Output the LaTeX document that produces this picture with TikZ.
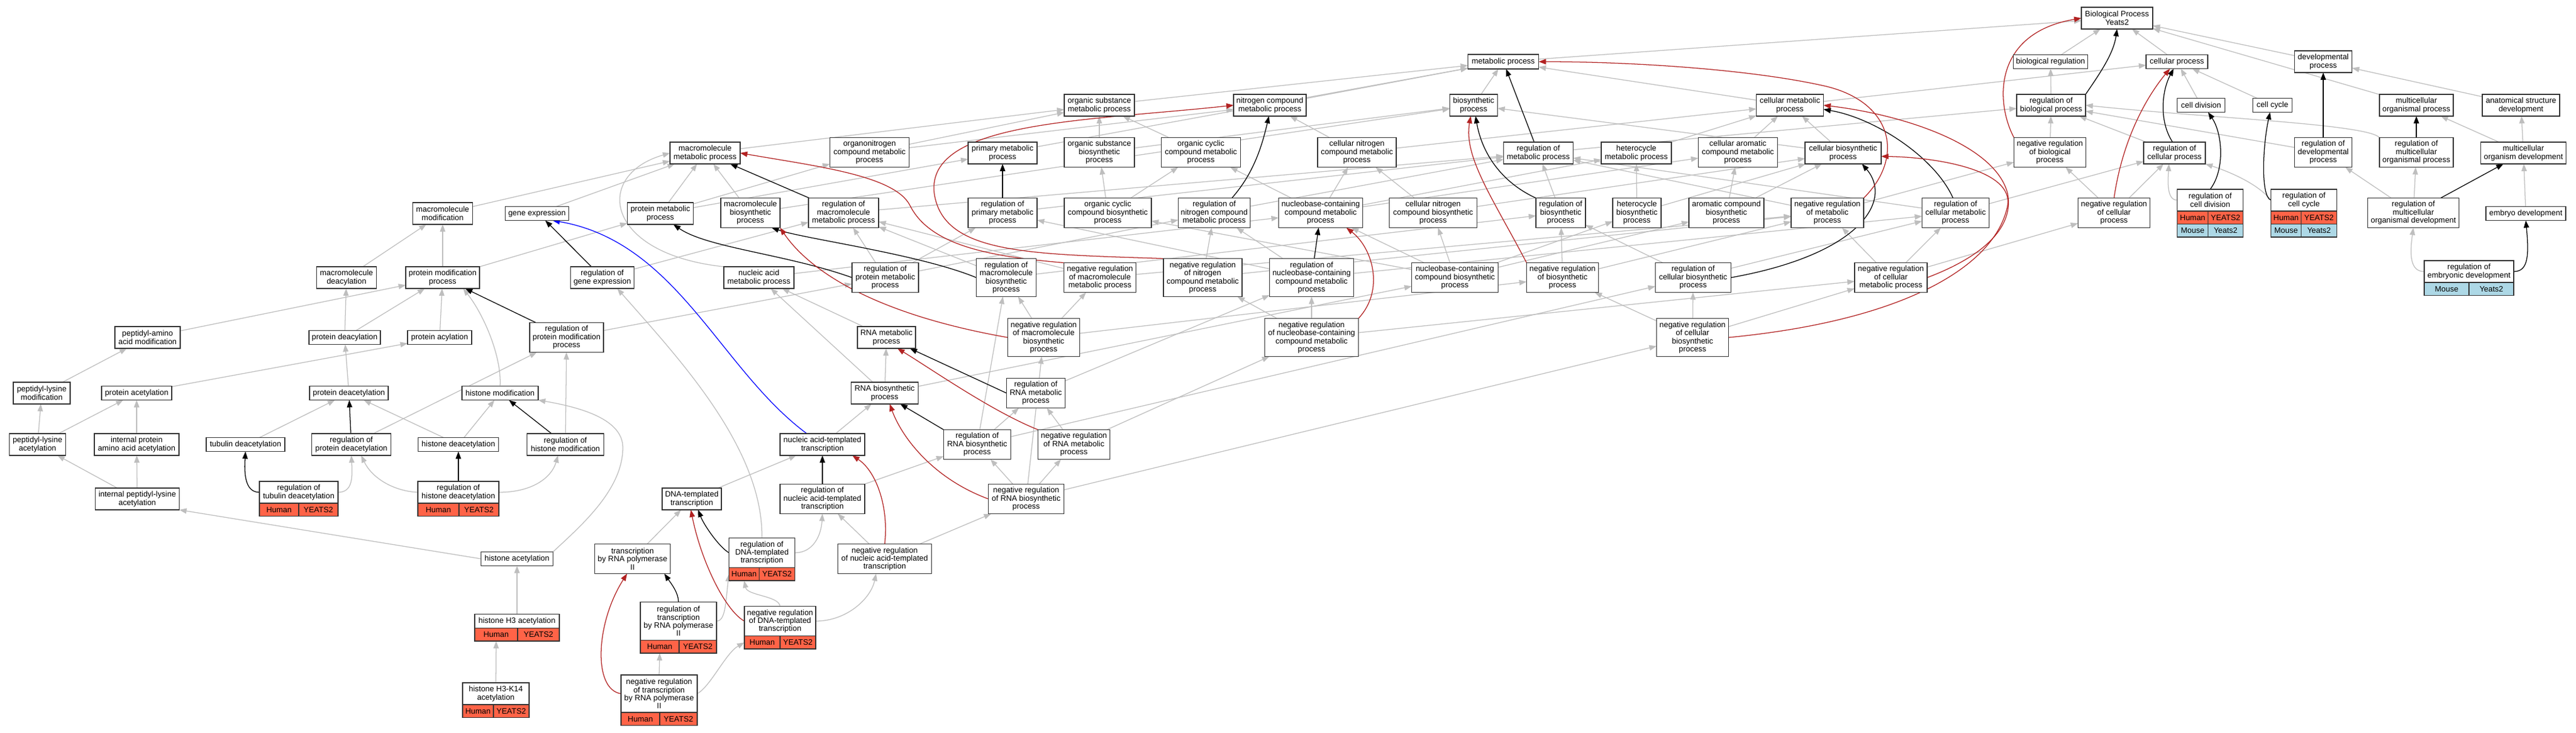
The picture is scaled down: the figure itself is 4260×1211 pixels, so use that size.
\documentclass[tikz,border=0pt]{standalone}
\usepackage{fontspec}
\setmainfont{Liberation Sans}
\usetikzlibrary{arrows.meta}
\definecolor{isagray}{RGB}{190,190,190}
\definecolor{negred}{RGB}{178,34,34}
\definecolor{posblue}{RGB}{0,0,255}
\definecolor{humanred}{RGB}{255,99,71}
\definecolor{mouseblue}{RGB}{173,216,230}
\pgfdeclarelayer{edges}
\pgfsetlayers{edges,main}

\newcommand{\unitpx}{0.025cm}
% term box: name, x, y, width, height, label
\newcommand{\term}[6]{\node[term, minimum width=#4*\unitpx, minimum height=#5*\unitpx] (#1) at (#2,#3) {#6};}
% gene row under a term: row name, left width, right width, colour, left text, right text, anchor
\newcommand{\generow}[7]{%
  \node[genecell, fill=#4, minimum width=#2*\unitpx, anchor=north west] (#1a) at (#7) {#5};
  \node[genecell, fill=#4, minimum width=#3*\unitpx, anchor=north west] (#1b) at (#1a.north east) {#6};}

\begin{document}
\begin{tikzpicture}[x=0.025cm, y=-0.025cm,
    term/.style={draw=black!80, line width=1.2pt, fill=white, inner sep=0pt, outer sep=0pt,
      align=center, font=\fontsize{9.2}{9.5}\selectfont},
    genecell/.style={draw=black!80, line width=1.2pt, inner sep=0pt, outer sep=0pt,
      minimum height=21.5*\unitpx, font=\fontsize{9.2}{9.5}\selectfont},
    isa/.style={draw=isagray, line width=0.9pt, -{Triangle[length=0.3cm,width=0.22cm]}},
    regby/.style={isa, draw=black},
    negby/.style={isa, draw=negred},
    posby/.style={isa, draw=posblue}]
    \useasboundingbox (0,0) rectangle (4260,1211);

    % Top rows
    \term{bp}{3501}{30}{118}{36}{Biological Process\\Yeats2}
    \term{metab}{2486}{102}{117}{24}{metabolic process}
    \term{bioreg}{3391}{102}{123}{23}{biological regulation}
    \term{cellproc}{3600}{102}{102}{23}{cellular process}
    \term{devproc}{3842}{102}{95}{36}{developmental\\process}
    \term{osmp}{1818}{174}{116}{36}{organic substance\\metabolic process}
    \term{ncmp}{2100}{174}{120}{36}{nitrogen compound\\metabolic process}
    \term{biosyn}{2437}{174}{79}{36}{biosynthetic\\process}
    \term{cmp}{2960}{174}{111}{36}{cellular metabolic\\process}
    \term{regbp}{3392}{174}{114}{36}{regulation of\\biological process}
    \term{celldiv}{3640}{174}{79}{23}{cell division}
    \term{cellcyc}{3758}{174}{65}{23}{cell cycle}
    \term{mop}{3996}{174}{122}{36}{multicellular\\organismal process}
    \term{asd}{4169}{174}{128}{36}{anatomical structure\\development}

    \term{mmp}{1166}{253}{116}{36}{macromolecule\\metabolic process}
    \term{oncmp}{1438}{252}{131}{49}{organonitrogen\\compound metabolic\\process}
    \term{pmp}{1658}{253}{114}{36}{primary metabolic\\process}
    \term{osbp}{1818}{252}{116}{49}{organic substance\\biosynthetic\\process}
    \term{occmp}{1986}{252}{131}{49}{organic cyclic\\compound metabolic\\process}
    \term{cncmp}{2244}{252}{130}{49}{cellular nitrogen\\compound metabolic\\process}
    \term{regmp}{2544}{253}{115}{36}{regulation of\\metabolic process}
    \term{hmp}{2706}{253}{116}{36}{heterocycle\\metabolic process}
    \term{cacmp}{2874}{252}{131}{49}{cellular aromatic\\compound metabolic\\process}
    \term{cbp}{3048}{253}{126}{36}{cellular biosynthetic\\process}
    \term{nrbp}{3390}{252}{119}{49}{negative regulation\\of biological\\process}
    \term{regcp}{3596}{253}{102}{36}{regulation of\\cellular process}
    \term{regdev}{3842}{252}{95}{49}{regulation of\\developmental\\process}
    \term{regmop}{3996}{252}{122}{49}{regulation of\\multicellular\\organismal process}
    \term{mod}{4173}{253}{141}{36}{multicellular\\organism development}

    % Middle rows
    \term{macmod}{732}{353}{99}{36}{macromolecule\\modification}
    \term{geneexp}{888}{353}{105}{23}{gene expression}
    \term{protmp}{1092}{353}{109}{36}{protein metabolic\\process}
    \term{mbp}{1241}{352}{98}{49}{macromolecule\\biosynthetic\\process}
    \term{regmmp}{1395}{352}{116}{49}{regulation of\\macromolecule\\metabolic process}
    \term{regpmp}{1658}{352}{114}{49}{regulation of\\primary metabolic\\process}
    \term{occbp}{1832}{352}{144}{49}{organic cyclic\\compound biosynthetic\\process}
    \term{regncmp}{2008}{352}{119}{49}{regulation of\\nitrogen compound\\metabolic process}
    \term{nccmp}{2184}{352}{139}{49}{nucleobase-containing\\compound metabolic\\process}
    \term{cncbp}{2370}{352}{145}{49}{cellular nitrogen\\compound biosynthetic\\process}
    \term{regbsp}{2581}{352}{82}{49}{regulation of\\biosynthetic\\process}
    \term{hbp}{2707}{352}{80}{49}{heterocycle\\biosynthetic\\process}
    \term{acbp}{2855}{352}{124}{49}{aromatic compound\\biosynthetic\\process}
    \term{nrmp}{3022}{352}{120}{49}{negative regulation\\of metabolic\\process}
    \term{regcmp}{3234}{352}{111}{49}{regulation of\\cellular metabolic\\process}
    \term{nrcp}{3496}{352}{119}{49}{negative regulation\\of cellular\\process}
    \term{regcdiv}{3655}{331}{109}{36}{regulation of\\cell division}
    \term{regccyc}{3810}{331}{109}{36}{regulation of\\cell cycle}
    \term{regmod}{3991}{352}{151}{49}{regulation of\\multicellular\\organismal development}
    \term{embdev}{4177}{353}{132}{23}{embryo development}

    \term{macdeac}{573}{459}{99}{36}{macromolecule\\deacylation}
    \term{pmodp}{732}{459}{122}{36}{protein modification\\process}
    \term{reggene}{996}{459}{105}{36}{regulation of\\gene expression}
    \term{nucamp}{1255}{459}{116}{36}{nucleic acid\\metabolic process}
    \term{regprotmp}{1464}{459}{110}{49}{regulation of\\protein metabolic\\process}
    \term{regmbp}{1664}{459}{99}{63}{regulation of\\macromolecule\\biosynthetic\\process}
    \term{nrmmp}{1819}{459}{119}{49}{negative regulation\\of macromolecule\\metabolic process}
    \term{nrncmp}{1989}{459}{130}{63}{negative regulation\\of nitrogen\\compound metabolic\\process}
    \term{regnccmp}{2169}{459}{139}{63}{regulation of\\nucleobase-containing\\compound metabolic\\process}
    \term{ncbp}{2406}{459}{143}{49}{nucleobase-containing\\compound biosynthetic\\process}
    \term{nrbsp}{2584}{459}{119}{49}{negative regulation\\of biosynthetic\\process}
    \term{regcbp}{2800}{459}{125}{49}{regulation of\\cellular biosynthetic\\process}
    \term{nrcmp}{3127}{459}{120}{49}{negative regulation\\of cellular\\metabolic process}
    \term{regembdev}{4083}{449}{148}{36}{regulation of\\embryonic development}

    \term{pamod}{244}{558}{108}{36}{peptidyl-amino\\acid modification}
    \term{protdeacyl}{570}{558}{118}{23}{protein deacylation}
    \term{protacyl}{727}{558}{106}{23}{protein acylation}
    \term{regpmod}{937}{558}{122}{49}{regulation of\\protein modification\\process}
    \term{ramp}{1466}{558}{96}{36}{RNA metabolic\\process}
    \term{nrmbp}{1726}{558}{119}{63}{negative regulation\\of macromolecule\\biosynthetic\\process}
    \term{nrnccmp}{2169}{558}{155}{63}{negative regulation\\of nucleobase-containing\\compound metabolic\\process}
    \term{nrcbp}{2799}{558}{119}{63}{negative regulation\\of cellular\\biosynthetic\\process}

    % Lower rows
    \term{plmod}{69}{650}{94}{36}{peptidyl-lysine\\modification}
    \term{protacet}{226}{650}{116}{23}{protein acetylation}
    \term{protdeacet}{577}{650}{130}{23}{protein deacetylation}
    \term{histmod}{827}{650}{126}{23}{histone modification}
    \term{rnabp}{1463}{650}{111}{36}{RNA biosynthetic\\process}
    \term{regrmp}{1713}{650}{97}{49}{regulation of\\RNA metabolic\\process}

    \term{placet}{62}{735}{93}{36}{peptidyl-lysine\\acetylation}
    \term{ipaaa}{226}{735}{140}{36}{internal protein\\amino acid acetylation}
    \term{tubdeac}{406}{735}{130}{23}{tubulin deacetylation}
    \term{regprotdeac}{581}{735}{131}{36}{regulation of\\protein deacetylation}
    \term{histdeac}{758}{735}{133}{23}{histone deacetylation}
    \term{reghistmod}{935}{735}{127}{36}{regulation of\\histone modification}
    \term{natt}{1360}{735}{140}{36}{nucleic acid-templated\\transcription}
    \term{regrbp}{1616}{735}{111}{49}{regulation of\\RNA biosynthetic\\process}
    \term{nrrmp}{1776}{735}{119}{49}{negative regulation\\of RNA metabolic\\process}

    \term{iplacet}{227}{825}{139}{36}{internal peptidyl-lysine\\acetylation}
    \term{regtubdeac}{494}{814}{130}{36}{regulation of\\tubulin deacetylation}
    \term{reghistdeac}{758}{814}{134}{36}{regulation of\\histone deacetylation}
    \term{dnatt}{1144}{825}{98}{36}{DNA-templated\\transcription}
    \term{regnatt}{1360}{825}{140}{49}{regulation of\\nucleic acid-templated\\transcription}
    \term{nrrbp}{1697}{825}{125}{49}{negative regulation\\of RNA biosynthetic\\process}

    \term{histacet}{855}{924}{119}{23}{histone acetylation}
    \term{trnap}{1046}{924}{125}{49}{transcription\\by RNA polymerase\\II}
    \term{regdnatt}{1260}{914}{109}{49}{regulation of\\DNA-templated\\transcription}
    \term{nrnatt}{1463}{924}{155}{49}{negative regulation\\of nucleic acid-templated\\transcription}

    \term{histh3}{855}{1027}{140}{23}{histone H3 acetylation}
    \term{regtrnap}{1122}{1027}{126}{63}{regulation of\\transcription\\by RNA polymerase\\II}
    \term{nrdnatt}{1290}{1027}{118}{49}{negative regulation\\of DNA-templated\\transcription}

    \term{histh3k14}{820}{1147}{110}{36}{histone H3-K14\\acetylation}
    \term{nrtrnap}{1090}{1147}{126}{62}{negative regulation\\of transcription\\by RNA polymerase\\II}

    % Gene rows
    \generow{regcdivH}{51}{58}{humanred}{Human}{YEATS2}{regcdiv.south west}
    \generow{regcdivM}{51}{58}{mouseblue}{Mouse}{Yeats2}{regcdivHa.south west}
    \generow{regccycH}{50}{59}{humanred}{Human}{YEATS2}{regccyc.south west}
    \generow{regccycM}{50}{59}{mouseblue}{Mouse}{Yeats2}{regccycHa.south west}
    \generow{regembdevM}{74}{74}{mouseblue}{Mouse}{Yeats2}{regembdev.south west}
    \generow{regtubdeacH}{65}{65}{humanred}{Human}{YEATS2}{regtubdeac.south west}
    \generow{reghistdeacH}{68}{66}{humanred}{Human}{YEATS2}{reghistdeac.south west}
    \generow{regdnattH}{50}{59}{humanred}{Human}{YEATS2}{regdnatt.south west}
    \generow{histh3H}{71}{69}{humanred}{Human}{YEATS2}{histh3.south west}
    \generow{regtrnapH}{64}{62}{humanred}{Human}{YEATS2}{regtrnap.south west}
    \generow{nrdnattH}{59}{59}{humanred}{Human}{YEATS2}{nrdnatt.south west}
    \generow{histh3k14H}{51}{59}{humanred}{Human}{YEATS2}{histh3k14.south west}
    \generow{nrtrnapH}{64}{62}{humanred}{Human}{YEATS2}{nrtrnap.south west}

    \begin{pgfonlayer}{edges}
    \fill[white] (0,0) rectangle (4260,1211);

    % is_a edges
    \foreach \src/\dst in {metab/bp, bioreg/bp, cellproc/bp, devproc/bp, mop/bp,
        regbp/bioreg, nrbp/regbp, regcp/regbp, regdev/regbp, regmp/regbp,
        nrcp/regcp, nrcp/nrbp, celldiv/cellproc, cellcyc/cellproc, cmp/cellproc,
        asd/devproc, mod/mop, mod/asd, regmod/regdev, regmod/regmop, embdev/mod,
        cmp/metab, osmp/metab, pmp/metab, ncmp/metab, biosyn/metab,
        cbp/cmp, cbp/biosyn, regcmp/regmp, regcmp/regcp, nrmp/regmp, nrmp/nrbp,
        nrcmp/regcmp, nrcmp/nrmp, nrcmp/nrcp, regcbp/regbsp, regcbp/regcmp,
        nrcbp/regcbp, nrcbp/nrbsp, nrcbp/nrcmp, regbsp/regmp, nrbsp/regbsp, nrbsp/nrmp,
        hmp/cmp, hbp/hmp, hbp/cbp, cacmp/cmp, acbp/cacmp, acbp/cbp,
        occmp/osmp, occbp/occmp, occbp/osbp, osbp/osmp, osbp/biosyn,
        regpmp/regmp, oncmp/ncmp, oncmp/osmp, mmp/osmp,
        protmp/mmp, protmp/oncmp, protmp/pmp, mbp/mmp, mbp/biosyn,
        regmmp/regmp, regmbp/regmmp, regmbp/regbsp, nrmmp/regmmp, nrmmp/nrmp,
        nrmbp/regmbp, nrmbp/nrmmp, nrmbp/nrbsp,
        regprotmp/regmmp, regprotmp/regpmp, regprotmp/regncmp,
        geneexp/mmp, reggene/regmmp, nucamp/nccmp, macmod/mmp,
        cncmp/ncmp, cncmp/cmp, cncbp/cncmp, cncbp/cbp,
        nccmp/cncmp, nccmp/hmp, nccmp/cacmp, nccmp/occmp,
        ncbp/nccmp, ncbp/cncbp, ncbp/hbp, ncbp/acbp, ncbp/occbp,
        regnccmp/regcmp, regnccmp/regncmp, regnccmp/regpmp,
        nrnccmp/regnccmp, nrnccmp/nrcmp, nrnccmp/nrncmp,
        regncmp/regmp, nrncmp/regncmp, nrncmp/nrmp,
        pmodp/macmod, pmodp/protmp, regpmod/regprotmp, macdeac/macmod,
        protdeacyl/macdeac, protdeacyl/pmodp, protacyl/pmodp, pamod/pmodp, plmod/pamod,
        protacet/protacyl, protdeacet/protdeacyl, placet/plmod, placet/protacet,
        ipaaa/protacet, iplacet/placet, iplacet/ipaaa, tubdeac/protdeacet,
        histdeac/protdeacet, histdeac/histmod, reghistmod/regpmod, regprotdeac/regpmod,
        histh3/histacet,
        ramp/nucamp, rnabp/nucamp, rnabp/ramp, rnabp/ncbp, regrmp/regnccmp,
        nrrmp/regrmp, nrrmp/nrnccmp,
        regrbp/regrmp, regrbp/regmbp, regrbp/regcbp, nrrbp/regrbp, nrrbp/nrrmp,
        nrrbp/nrcbp, nrrbp/nrmbp,
        natt/rnabp, regnatt/regrbp, nrnatt/regnatt, nrnatt/nrrbp, dnatt/natt, trnap/dnatt}
      \draw[isa] (\src) -- (\dst);

    \draw[isa] (regmop.north west) .. controls (3915,205) and (3650,195) .. (regbp.east);
    \draw[isa] (regcdiv.west) .. controls (3583,331) and (3585,300) .. (regcp.-117);
    \draw[isa] (regccyc.west) .. controls (3735,305) and (3690,285) .. (regcp.south east);
    \draw[isa] (regembdev.west) .. controls (3985,449) and (3985,420) .. (regmod.south);
    \draw[isa] (regtubdeac.east) .. controls (583,814) and (583,790) .. (regprotdeac.south);
    \draw[isa] (reghistdeac.east) .. controls (880,814) and (912,790) .. (reghistmod.-124);
    \draw[isa] (reghistdeac.west) .. controls (650,812) and (615,790) .. (regprotdeac.-48);
    \draw[isa] (regdnatt.east) .. controls (1345,914) and (1358,885) .. (regnatt.south);
    \draw[isa] (regdnatt.north) .. controls (1262,740) and (1120,590) .. (reggene.-36);
    \draw[isa] (regtrnap.east) .. controls (1200,1027) and (1200,995) .. (regdnattHa.west);
    \draw[isa] (nrdnatt.north) .. controls (1288,985) and (1236,985) .. (regdnattHa.south);
    \draw[isa] (nrdnatt.east) .. controls (1400,1027) and (1440,990) .. (nrnatt.-120);
    \draw[isa] (nrtrnap.north) -- (regtrnapHa.south);
    \draw[isa] (nrtrnap.east) .. controls (1175,1135) and (1200,1080) .. (nrdnattHa.west);
    \draw[isa] (histh3k14.north) -- (histh3Ha.south);
    \draw[isa] (histacet.north east) .. controls (960,870) and (1030,810) .. (1030,740)
        .. controls (1030,690) and (950,672) .. (histmod.south east);
    \draw[isa] (histacet.west) -- (iplacet.south east);
    \draw[isa] (nucamp.north west) .. controls (1000,420) and (980,290) .. (mmp.west);
    \draw[isa] (histmod.north) .. controls (830,590) and (800,520) .. (pmodp.-28);

    % regulates edges
    \foreach \src/\dst in {regdev/devproc, regmop/mop, regmod/mod, regmp/metab,
        regpmp/pmp, regnccmp/nccmp, regmmp/mmp, regpmod/pmodp,
        regprotdeac/protdeacet, reghistmod/histmod, reghistdeac/histdeac, regnatt/natt}
      \draw[regby] (\src) -- (\dst);

    \draw[regby] (regbp.north east) .. controls (3470,125) and (3495,90) .. (bp.south);
    \draw[regby] (regcp.100) .. controls (3570,200) and (3575,150) .. (cellproc.-115);
    \draw[regby] (regcdiv.north) .. controls (3680,280) and (3675,220) .. (celldiv.-45);
    \draw[regby] (regccyc.west) .. controls (3738,325) and (3742,240) .. (cellcyc.-109);
    \draw[regby] (regembdev.east) .. controls (4182,449) and (4182,420) .. (embdev.south);
    \draw[regby] (regcmp.100) .. controls (3200,260) and (3100,195) .. (cmp.-7);
    \draw[regby] (regcbp.east) .. controls (3080,420) and (3130,330) .. (cbp.-30);
    \draw[regby] (regbsp.north west) .. controls (2480,300) and (2450,250) .. (biosyn.-80);
    \draw[regby] (regncmp.40) .. controls (2070,290) and (2085,250) .. (ncmp.-95);
    \draw[regby] (regmbp.west) .. controls (1520,420) and (1330,395) .. (mbp.-35);
    \draw[regby] (regprotmp.west) .. controls (1300,420) and (1170,410) .. (protmp.-40);
    \draw[regby] (reggene) -- (geneexp.-40);
    \draw[regby] (regtubdeac.west) .. controls (404,814) and (404,780) .. (tubdeac.south);
    \draw[regby] (regdnatt.west) .. controls (1190,905) and (1165,870) .. (dnatt.-60);
    \draw[regby] (regrmp.west) -- (ramp.-25);
    \draw[regby] (regrbp.north west) -- (rnabp.-35);
    \draw[regby] (regtrnap.north) .. controls (1122,980) and (1110,965) .. (trnap.-25);

    % negatively regulates edges
    \draw[negby] (nrbp.north west) .. controls (3300,170) and (3295,55) .. (bp.west);
    \draw[negby] (nrcp.north) .. controls (3510,230) and (3550,160) .. (cellproc.-135);
    \draw[negby] (nrmp.north east) .. controls (3150,260) and (3130,170) .. (3021,143)
        .. controls (2900,115) and (2700,102) .. (metab.east);
    \draw[negby] (nrcmp.east) .. controls (3290,420) and (3330,370) .. (3320,320)
        .. controls (3300,240) and (3150,190) .. (cmp.east);
    \draw[negby] (nrcbp.east) .. controls (3150,530) and (3300,440) .. (3320,340)
        .. controls (3330,280) and (3200,260) .. (cbp.-5);
    \draw[negby] (nrbsp.north west) .. controls (2470,330) and (2420,260) .. (biosyn.-105);
    \draw[negby] (nrncmp.north west) .. controls (1700,420) and (1560,420) .. (1545,320)
        .. controls (1530,200) and (1800,200) .. (ncmp.west);
    \draw[negby] (nrnccmp.north east) .. controls (2290,480) and (2270,410) .. (nccmp.-30);
    \draw[negby] (nrmmp.north west) .. controls (1650,425) and (1540,410) .. (1505,340)
        .. controls (1480,290) and (1350,275) .. (mmp.east);
    \draw[negby] (nrmbp.west) .. controls (1450,520) and (1340,450) .. (mbp.south east);
    \draw[negby] (nrrmp.north west) .. controls (1640,680) and (1540,610) .. (ramp.-45);
    \draw[negby] (nrrbp.west) .. controls (1540,790) and (1490,720) .. (rnabp.-65);
    \draw[negby] (nrnatt.north) .. controls (1470,840) and (1450,780) .. (natt.-20);
    \draw[negby] (nrdnatt.west) .. controls (1200,1010) and (1160,930) .. (dnatt.-95);
    \draw[negby] (nrtrnap.west) .. controls (980,1140) and (985,1030) .. (trnap.-110);

    % part of edge
    \draw[posby] (natt.145) .. controls (1190,610) and (1120,400) .. (geneexp.-24);
    \end{pgfonlayer}
\end{tikzpicture}
\end{document}
